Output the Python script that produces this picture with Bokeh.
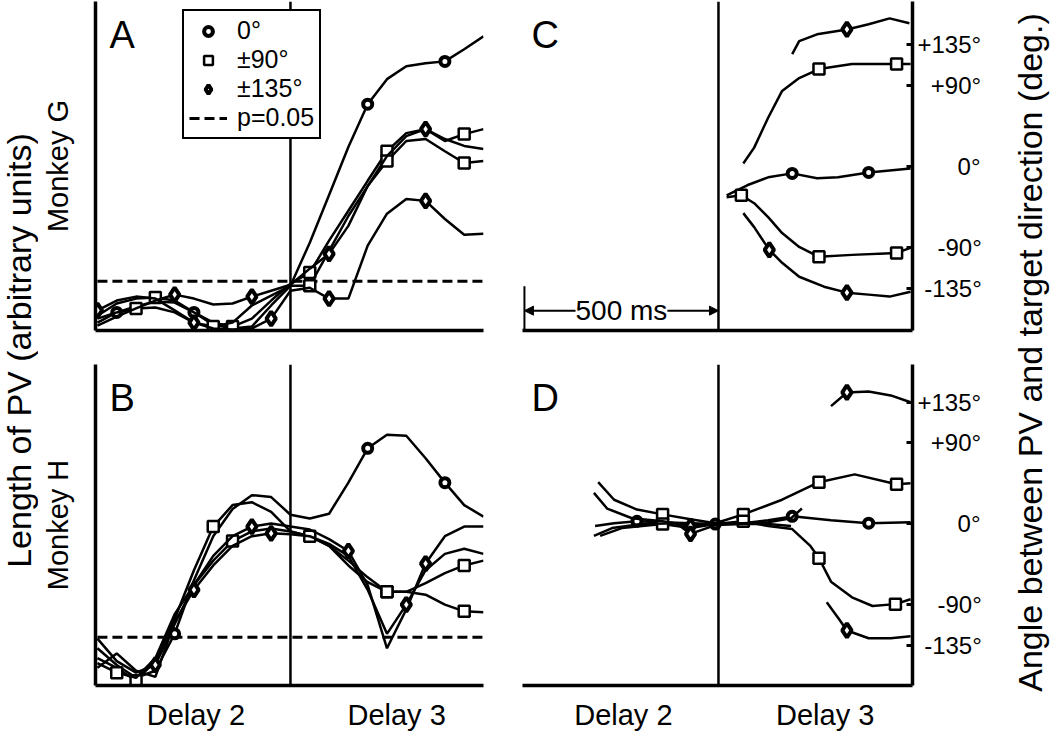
import math
from bokeh.plotting import figure
from bokeh.models import (Range1d, FixedTicker, Span, Label, Legend, LegendItem,
                          Arrow, NormalHead)
from bokeh.layouts import row, column
from bokeh.embed import file_html
from bokeh.resources import INLINE
from bokeh.core.properties import value

NAN = float("nan")
FONT = "Liberation Sans"

# ---------------- data ----------------
# time (ms) relative to onset of Delay 3
T = [-500, -450, -400, -350, -300, -250, -200, -150, -100, -50,
     0, 50, 100, 150, 200, 250, 300, 350, 400, 450, 500]

# Panel A (Monkey G) - length of PV (arbitrary units)
A_C0 = [2.4, 5.5, 7.3, 8.8, 8.5, 5.5, 1.8, 0.6, 1.2, 7.6,
        13.6, 26.7, 41.2, 55.8, 68.8, 76.4, 80.3, 81.2, 81.8, 85.5, 89.4]
A_S1 = [4.5, 8.2, 9.7, 10.0, 9.1, 5.5, 2.4, 1.2, 3.6, 9.1,
        14.2, 17.6, 27.3, 36.4, 45.5, 54.5, 60.0, 61.2, 57.6, 59.7, 61.2]
A_S2 = [3.6, 5.5, 6.7, 7.0, 5.5, 2.4, 1.2, 2.4, 7.6, 10.6,
        13.6, 13.6, 24.2, 34.8, 43.9, 51.5, 57.6, 58.2, 54.5, 50.9, 51.5]
A_D1 = [1.5, 4.2, 6.7, 9.1, 10.9, 9.7, 7.9, 8.2, 10.3, 12.1,
        13.9, 18.8, 23.3, 31.8, 43.9, 53.0, 59.1, 61.2, 58.2, 56.1, 55.2]
A_D2 = [6.1, 9.1, 10.3, 9.7, 6.1, 2.4, 0.6, 0.3, 0.6, 3.6,
        12.1, 13.0, 9.7, 9.7, 25.8, 35.5, 40.0, 39.4, 33.9, 29.1, 29.4]
A_MARKS = {"C0": [1, 5, 14, 18], "S1": [3, 7, 11, 15, 19], "S2": [2, 6, 11, 15, 19],
           "D1": [4, 8, 12, 17], "D2": [0, 5, 9, 12, 17]}

# Panel B (Monkey H)
B_C0 = [11.6, 6.4, 2.4, 4.6, 16.1, 32.8, 46.5, 55.0, 59.3, 58.7,
        53.2, 52.0, 53.5, 63.2, 73.9, 78.1, 77.8, 70.8, 63.2, 56.2, 52.6]
B_S1 = [8.5, 5.5, 1.5, 7.6, 20.7, 35.9, 49.5, 56.2, 57.1, 54.1,
        48.0, 46.5, 43.5, 37.4, 32.2, 29.2, 29.2, 31.9, 35.0, 37.4, 38.9]
B_S2 = [7.0, 4.0, 2.4, 8.5, 22.2, 31.3, 38.9, 45.0, 48.0, 48.9,
        48.0, 46.5, 43.5, 38.9, 33.7, 29.2, 29.2, 28.3, 25.2, 23.1, 22.8]
B_D1 = [14.6, 7.6, 4.0, 6.4, 19.1, 31.3, 40.4, 46.5, 49.5, 50.5,
        49.5, 48.6, 45.6, 41.9, 31.3, 11.6, 23.7, 38.0, 46.5, 49.5, 49.5]
B_D2 = [5.5, 10.0, 4.6, 2.7, 19.8, 29.8, 37.4, 43.5, 46.5, 47.4,
        47.1, 46.5, 44.1, 40.4, 29.8, 16.1, 25.2, 35.9, 41.0, 42.6, 41.0]
B_MARKS = {"C0": [4, 14, 18], "S1": [2, 6, 15, 19], "S2": [1, 7, 11, 15, 19],
           "D1": [3, 8, 13, 17], "D2": [5, 9, 16]}

THRESHOLD = 15.0          # p = 0.05 level (same units as the PV length)
TIME_SPAN = [-500, 500]

# Panel C (Monkey G) - angle between PV and target direction (deg)
C_C0_T = [21, 74, 128, 190, 254, 308, 387, 495]
C_C0 = [-32.0, -20.9, -12.1, -7.7, -13.2, -12.1, -6.6, -2.2]
C_S1_T = [64, 92, 128, 164, 208, 259, 344, 459, 495]
C_S1 = [3.3, 20.9, 54.0, 83.8, 98.1, 108.0, 113.6, 113.6, 113.6]
C_S2_T = [21, 59, 92, 128, 164, 208, 259, 344, 459, 495]
C_S2 = [-34.2, -32.0, -40.8, -56.2, -73.9, -89.3, -100.3, -98.1, -95.9, -90.4]
C_D1_T = [190, 208, 254, 331, 387, 441, 492]
C_D1 = [124.6, 139.0, 146.6, 152.0, 157.7, 164.3, 158.8]
C_D2_T = [64, 92, 131, 164, 208, 272, 331, 387, 441, 495]
C_D2 = [-51.8, -67.3, -92.6, -106.9, -122.4, -133.4, -140.0, -142.2, -144.4, -139.0]
C_MARKS = {"C0": [3, 6], "S1": [5, 7], "S2": [1, 6, 8], "D1": [3], "D2": [2, 6]}

# Panel D (Monkey H)
D_C0_T = [-318, -269, -210, -144, -72, -8, 64, 128, 190, 290, 387, 495]
D_C0 = [-2.7, 0.5, 2.7, 1.6, 0.5, -0.5, 0.5, 3.8, 8.1, 3.8, 0.5, 1.6]
D_S1_T = [-310, -269, -210, -144, -72, -8, 64, 164, 259, 351, 459, 495]
D_S1 = [46.1, 26.6, 15.7, 10.3, 4.9, 0.5, 10.3, 26.6, 46.1, 54.8, 43.9, 45.0]
D_S2_T = [-305, -249, -144, -72, -8, 64, 128, 190, 236, 259, 290, 344, 397, 456, 495]
D_S2 = [-13.6, -4.9, -0.5, -4.9, -0.5, 2.7, -2.7, -6.0, -24.4, -38.5, -64.5,
        -81.9, -91.6, -89.5, -84.1]
D_D1_T = [-321, -287, -223, -144, -72, -8, 64, 128, 187, 215, 250, 290, 331, 387, 444, 495]
D_D1 = [34.2, 16.8, 6.0, 2.7, -2.7, 0.5, 0.5, 1.6, 6.0, 16.8, NAN,
        130.7, 145.9, 147.0, 142.6, 135.0]
D_D2_T = [-321, -274, -197, -108, -72, -8, 64, 128, 187, 230, 279, 310, 331, 387, 444, 495]
D_D2 = [-13.6, -4.9, -0.5, 0.5, -11.4, -1.6, -0.5, -0.5, -2.7, NAN,
        -87.3, -105.7, -118.8, -127.4, -127.4, -125.3]
D_MARKS = {"C0": [2, 5, 8, 10], "S1": [3, 6, 8, 10], "S2": [2, 5, 9, 13],
           "D1": [4, 12], "D2": [4, 12]}

DEG_TICKS = [135, 90, 0, -90, -135]
DEG_LABELS = ["+135°", "+90°", "0°", "-90°", "-135°"]
DELAY_TICKS = [-245, 275]
DELAY_LABELS = ["Delay 2", "Delay 3"]
LEGEND_LABELS = ["0°", "±90°", "±135°", "p=0.05"]

SCALE_BAR = [-500, 0]      # 500 ms
SCALE_Y = -160
SCALE_TICK_TOP = -133

# ---------------- styling helpers ----------------
MARKER = {
    "C0": dict(marker="circle", size=9, line_width=4),
    "S1": dict(marker="square", size=11, line_width=2.5),
    "S2": dict(marker="square", size=11, line_width=2.5),
    "D1": dict(marker="diamond", size=14, line_width=4),
    "D2": dict(marker="diamond", size=14, line_width=4),
}
X_RANGE = (-505, 500)
FRAME_W = 390
LINE_W = 2.5
AXIS_W = 3.5

# right-aligned tick labels: pad with figure / punctuation spaces
FIG_SP, PUNC_SP = "\u2007", "\u2008"
PAD = {"+135°": "", "+90°": FIG_SP, "0°": FIG_SP * 3, "-90°": FIG_SP + PUNC_SP,
       "-135°": PUNC_SP}


def curve(p, xs, ys, key, marks):
    p.line(xs, ys, line_color="black", line_width=LINE_W)
    idx = marks[key]
    st = MARKER[key]
    return p.scatter([xs[i] for i in idx], [ys[i] for i in idx], marker=st["marker"],
                     size=st["size"], line_width=st["line_width"],
                     line_color="black", fill_color="white")


def style_xaxis(p, labels):
    ax = p.xaxis[0]
    ax.axis_line_width = AXIS_W
    ax.major_tick_line_color = None
    ax.minor_tick_line_color = None
    if labels:
        ax.ticker = FixedTicker(ticks=DELAY_TICKS)
        ax.major_label_overrides = {t: l for t, l in zip(DELAY_TICKS, DELAY_LABELS)}
        ax.major_label_text_font = FONT
        ax.major_label_text_font_size = "29px"
        ax.major_label_text_color = "black"
        ax.major_label_standoff = 7
    else:
        ax.ticker = FixedTicker(ticks=[])
        ax.major_label_standoff = 0


def panel_letter(p, letter, ytop, xoff):
    p.add_layout(Label(x=X_RANGE[0], y=ytop, x_offset=xoff, y_offset=-12, text=letter,
                       text_baseline="top", text_align="left", text_font=FONT,
                       text_font_size="38px", text_color="black"))


LEFT_W, A_LB, A_RB = 38, 55, 15
C_LB, C_RB, RIGHT_W = 24, 94, 44
TOP_H, TOP_T, TOP_B = 340, 1, 10
BOT_H, BOT_T, BOT_B = 393, 24, 40


def len_panel(ylabel, height, top, bottom, xlabels):
    p = figure(width=A_LB + FRAME_W + A_RB, height=height, x_range=Range1d(*X_RANGE),
               y_range=Range1d(0, 100), output_backend="svg", toolbar_location=None,
               min_border_left=A_LB, min_border_right=A_RB, min_border_top=top,
               min_border_bottom=bottom)
    p.outline_line_color = None
    p.grid.visible = False
    ay = p.yaxis[0]
    ay.ticker = FixedTicker(ticks=[])
    ay.axis_line_width = AXIS_W
    ay.major_tick_line_color = None
    ay.minor_tick_line_color = None
    ay.major_label_standoff = 0
    ay.axis_label = ylabel
    ay.axis_label_standoff = 22
    ay.axis_label_text_font = FONT
    ay.axis_label_text_font_size = "29px"
    ay.axis_label_text_font_style = "normal"
    ay.axis_label_text_color = "black"
    style_xaxis(p, xlabels)
    p.add_layout(Span(location=0, dimension="height", line_color="black", line_width=2.5))
    thr = p.line(TIME_SPAN, [THRESHOLD, THRESHOLD], line_color="black", line_width=3,
                 line_dash="10 5")
    return p, thr


def ang_panel(height, top, bottom, yr, xlabels):
    p = figure(width=C_LB + FRAME_W + C_RB, height=height, x_range=Range1d(*X_RANGE),
               y_range=Range1d(*yr), y_axis_location="right", output_backend="svg",
               toolbar_location=None, min_border_left=C_LB, min_border_right=C_RB,
               min_border_top=top, min_border_bottom=bottom)
    p.outline_line_color = None
    p.grid.visible = False
    ay = p.yaxis[0]
    ay.ticker = FixedTicker(ticks=DEG_TICKS)
    ay.major_label_overrides = {t: PAD[l] + l for t, l in zip(DEG_TICKS, DEG_LABELS)}
    ay.axis_line_width = AXIS_W
    ay.major_tick_in = 6
    ay.major_tick_out = 0
    ay.major_tick_line_width = 3
    ay.minor_tick_line_color = None
    ay.major_label_standoff = 5
    ay.major_label_text_font = FONT
    ay.major_label_text_font_size = "24px"
    ay.major_label_text_color = "black"
    style_xaxis(p, xlabels)
    p.add_layout(Span(location=0, dimension="height", line_color="black", line_width=2.5))
    return p


# ---------------- panel A ----------------
pA, thrA = len_panel("Monkey G", TOP_H, TOP_T, TOP_B, False)
rA = {}
for key, ys in [("C0", A_C0), ("S1", A_S1), ("S2", A_S2), ("D1", A_D1), ("D2", A_D2)]:
    rA[key] = curve(pA, T, ys, key, A_MARKS)
panel_letter(pA, "A", 100, 14)
legend = Legend(items=[LegendItem(label=LEGEND_LABELS[0], renderers=[rA["C0"]]),
                       LegendItem(label=LEGEND_LABELS[1], renderers=[rA["S1"]]),
                       LegendItem(label=LEGEND_LABELS[2], renderers=[rA["D1"]]),
                       LegendItem(label=LEGEND_LABELS[3], renderers=[thrA])],
                location=(87, 191), border_line_color="black", border_line_width=2,
                border_line_alpha=1.0,
                background_fill_color="white", background_fill_alpha=1.0,
                label_text_font=FONT, label_text_font_size="25px", label_text_color="black",
                glyph_width=38, glyph_height=22, label_height=22, spacing=0, padding=5,
                margin=0, label_standoff=10)
pA.add_layout(legend)

# ---------------- panel B ----------------
pB, thrB = len_panel("Monkey H", BOT_H, BOT_T, BOT_B, True)
for key, ys in [("C0", B_C0), ("S1", B_S1), ("S2", B_S2), ("D1", B_D1), ("D2", B_D2)]:
    curve(pB, T, ys, key, B_MARKS)
panel_letter(pB, "B", 100, 14)

# ---------------- panel C ----------------
C_YR = (-182, 183)
pC = ang_panel(TOP_H, TOP_T, TOP_B, C_YR, False)
for key, xs, ys in [("C0", C_C0_T, C_C0), ("S1", C_S1_T, C_S1), ("S2", C_S2_T, C_S2),
                    ("D1", C_D1_T, C_D1), ("D2", C_D2_T, C_D2)]:
    curve(pC, xs, ys, key, C_MARKS)
panel_letter(pC, "C", C_YR[1], 9)
pC.segment(x0=[SCALE_BAR[0]], y0=[C_YR[0]], x1=[SCALE_BAR[0]], y1=[SCALE_TICK_TOP],
           line_color="black", line_width=2)
pC.add_layout(Arrow(start=NormalHead(size=9, fill_color="black", line_color="black"),
                    end=NormalHead(size=9, fill_color="black", line_color="black"),
                    x_start=SCALE_BAR[0], y_start=SCALE_Y, x_end=SCALE_BAR[1], y_end=SCALE_Y,
                    line_color="black", line_width=2))
pC.add_layout(Label(x=sum(SCALE_BAR) / 2, y=SCALE_Y, text="500 ms", text_align="center",
                    text_baseline="middle", text_font=FONT, text_font_size="28px",
                    text_color="black", background_fill_color="white"))

# ---------------- panel D ----------------
D_YR = (-180, 177)
pD = ang_panel(BOT_H, BOT_T, BOT_B, D_YR, True)
for key, xs, ys in [("C0", D_C0_T, D_C0), ("S1", D_S1_T, D_S1), ("S2", D_S2_T, D_S2),
                    ("D1", D_D1_T, D_D1), ("D2", D_D2_T, D_D2)]:
    curve(pD, xs, ys, key, D_MARKS)
panel_letter(pD, "D", D_YR[1], 9)


# ---------------- outer titles ----------------
def title_fig(text, w, xc, yc):
    total_h = TOP_H + BOT_H
    p = figure(width=w, height=total_h, x_range=Range1d(0, w), y_range=Range1d(0, total_h),
               min_border=0, output_backend="svg", toolbar_location=None,
               x_axis_location=None, y_axis_location=None)
    p.outline_line_color = None
    p.grid.visible = False
    p.text(x=[xc], y=[yc], text=[text], angle=math.pi / 2, text_align="center",
           text_baseline="middle", text_font=value(FONT), text_font_size="34px",
           text_color="black")
    return p


left = title_fig("Length of PV (arbitrary units)", LEFT_W, 18, 383)
right = title_fig("Angle between PV and target direction (deg.)", RIGHT_W, 23, 381)

layout = row(left, column(pA, pB), column(pC, pD), right)
open("out.html", "w").write(file_html(layout, INLINE, title="PV length and angle"))
